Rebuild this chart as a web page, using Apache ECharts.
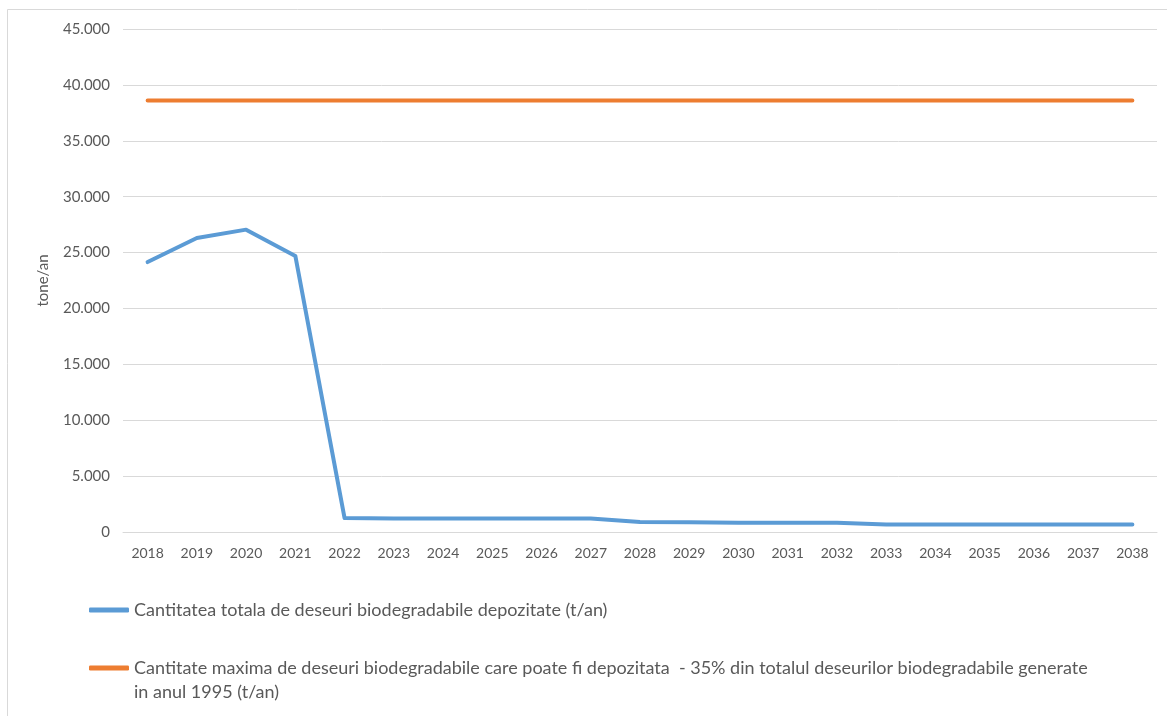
<!DOCTYPE html>
<html>
<head>
<meta charset="utf-8">
<script src="https://cdn.jsdelivr.net/npm/echarts@6/dist/echarts.min.js"></script>
<style>
  html, body { margin: 0; padding: 0; background: #fff; }
  #chart { width: 1167px; height: 716px; }
</style>
</head>
<body>
<div id="chart"></div>
<script>
  // date grafic
  var years = ['2018', '2019', '2020', '2021', '2022', '2023', '2024', '2025', '2026', '2027', '2028',
    '2029', '2030', '2031', '2032', '2033', '2034', '2035', '2036', '2037', '2038'];
  var depozitate = [24150, 26300, 27050, 24700, 1250, 1200, 1200, 1200, 1200, 1200, 900,
    880, 820, 820, 820, 680, 680, 680, 680, 680, 680];
  var maxim = [38600, 38600, 38600, 38600, 38600, 38600, 38600, 38600, 38600, 38600, 38600,
    38600, 38600, 38600, 38600, 38600, 38600, 38600, 38600, 38600, 38600];
  var seriesNames = [
    'Cantitatea totala de deseuri biodegradabile depozitate (t/an)',
    'Cantitate maxima de deseuri biodegradabile care poate fi depozitata  - 35% din totalul deseurilor biodegradabile generate in anul 1995 (t/an)'
  ];

  var fontName = 'Lato';
  var textColor = '#595959';

  // format 45.000
  function fmt(v) {
    return String(v).replace(/\B(?=(\d{3})+(?!\d))/g, '.');
  }

  var legendText = {
    color: textColor,
    fontFamily: fontName,
    fontSize: 18,
    lineHeight: 24
  };

  var option = {
    animation: false,
    backgroundColor: '#fff',
    graphic: [{
      type: 'rect',
      shape: { x: 7.5, y: 9.5, width: 1300, height: 900 },
      style: { fill: 'none', stroke: '#d9d9d9', lineWidth: 1 },
      silent: true
    }],
    grid: {
      left: 123,
      right: 10,
      top: 29,
      bottom: 184
    },
    legend: [{
      orient: 'vertical',
      left: 84,
      top: 593,
      icon: 'roundRect',
      itemWidth: 40,
      itemHeight: 5,
      itemGap: 0,
      textStyle: legendText,
      data: [seriesNames[0]]
    }, {
      orient: 'vertical',
      left: 84,
      top: 627,
      icon: 'roundRect',
      itemWidth: 40,
      itemHeight: 5,
      itemGap: 0,
      // linie goala sus ca iconita sa stea pe primul rand
      formatter: function (name) {
        return ' \n' + name.replace(' in anul', '\nin anul');
      },
      textStyle: legendText,
      data: [seriesNames[1]]
    }],
    xAxis: {
      type: 'category',
      data: years,
      boundaryGap: true,
      axisLine: { lineStyle: { color: '#d9d9d9', width: 1 } },
      axisTick: { show: false },
      axisLabel: {
        color: textColor,
        fontFamily: fontName,
        fontSize: 14,
        margin: 14
      }
    },
    yAxis: {
      type: 'value',
      min: 0,
      max: 45000,
      interval: 5000,
      name: 'tone/an',
      nameLocation: 'middle',
      nameGap: 72,
      nameRotate: 90,
      nameTextStyle: {
        color: textColor,
        fontFamily: fontName,
        fontSize: 15
      },
      axisLine: { show: false },
      axisTick: { show: false },
      splitLine: { lineStyle: { color: '#d9d9d9', width: 1 } },
      axisLabel: {
        color: textColor,
        fontFamily: fontName,
        fontSize: 15,
        margin: 13,
        formatter: fmt
      }
    },
    series: [{
      name: seriesNames[0],
      type: 'line',
      data: depozitate,
      showSymbol: false,
      symbol: 'none',
      lineStyle: { color: '#5b9bd5', width: 4, cap: 'round', join: 'round' },
      itemStyle: { color: '#5b9bd5' }
    }, {
      name: seriesNames[1],
      type: 'line',
      data: maxim,
      showSymbol: false,
      symbol: 'none',
      lineStyle: { color: '#ed7d31', width: 4, cap: 'round' },
      itemStyle: { color: '#ed7d31' }
    }]
  };

  var chart = echarts.init(document.getElementById('chart'));
  chart.setOption(option);
</script>
</body>
</html>
